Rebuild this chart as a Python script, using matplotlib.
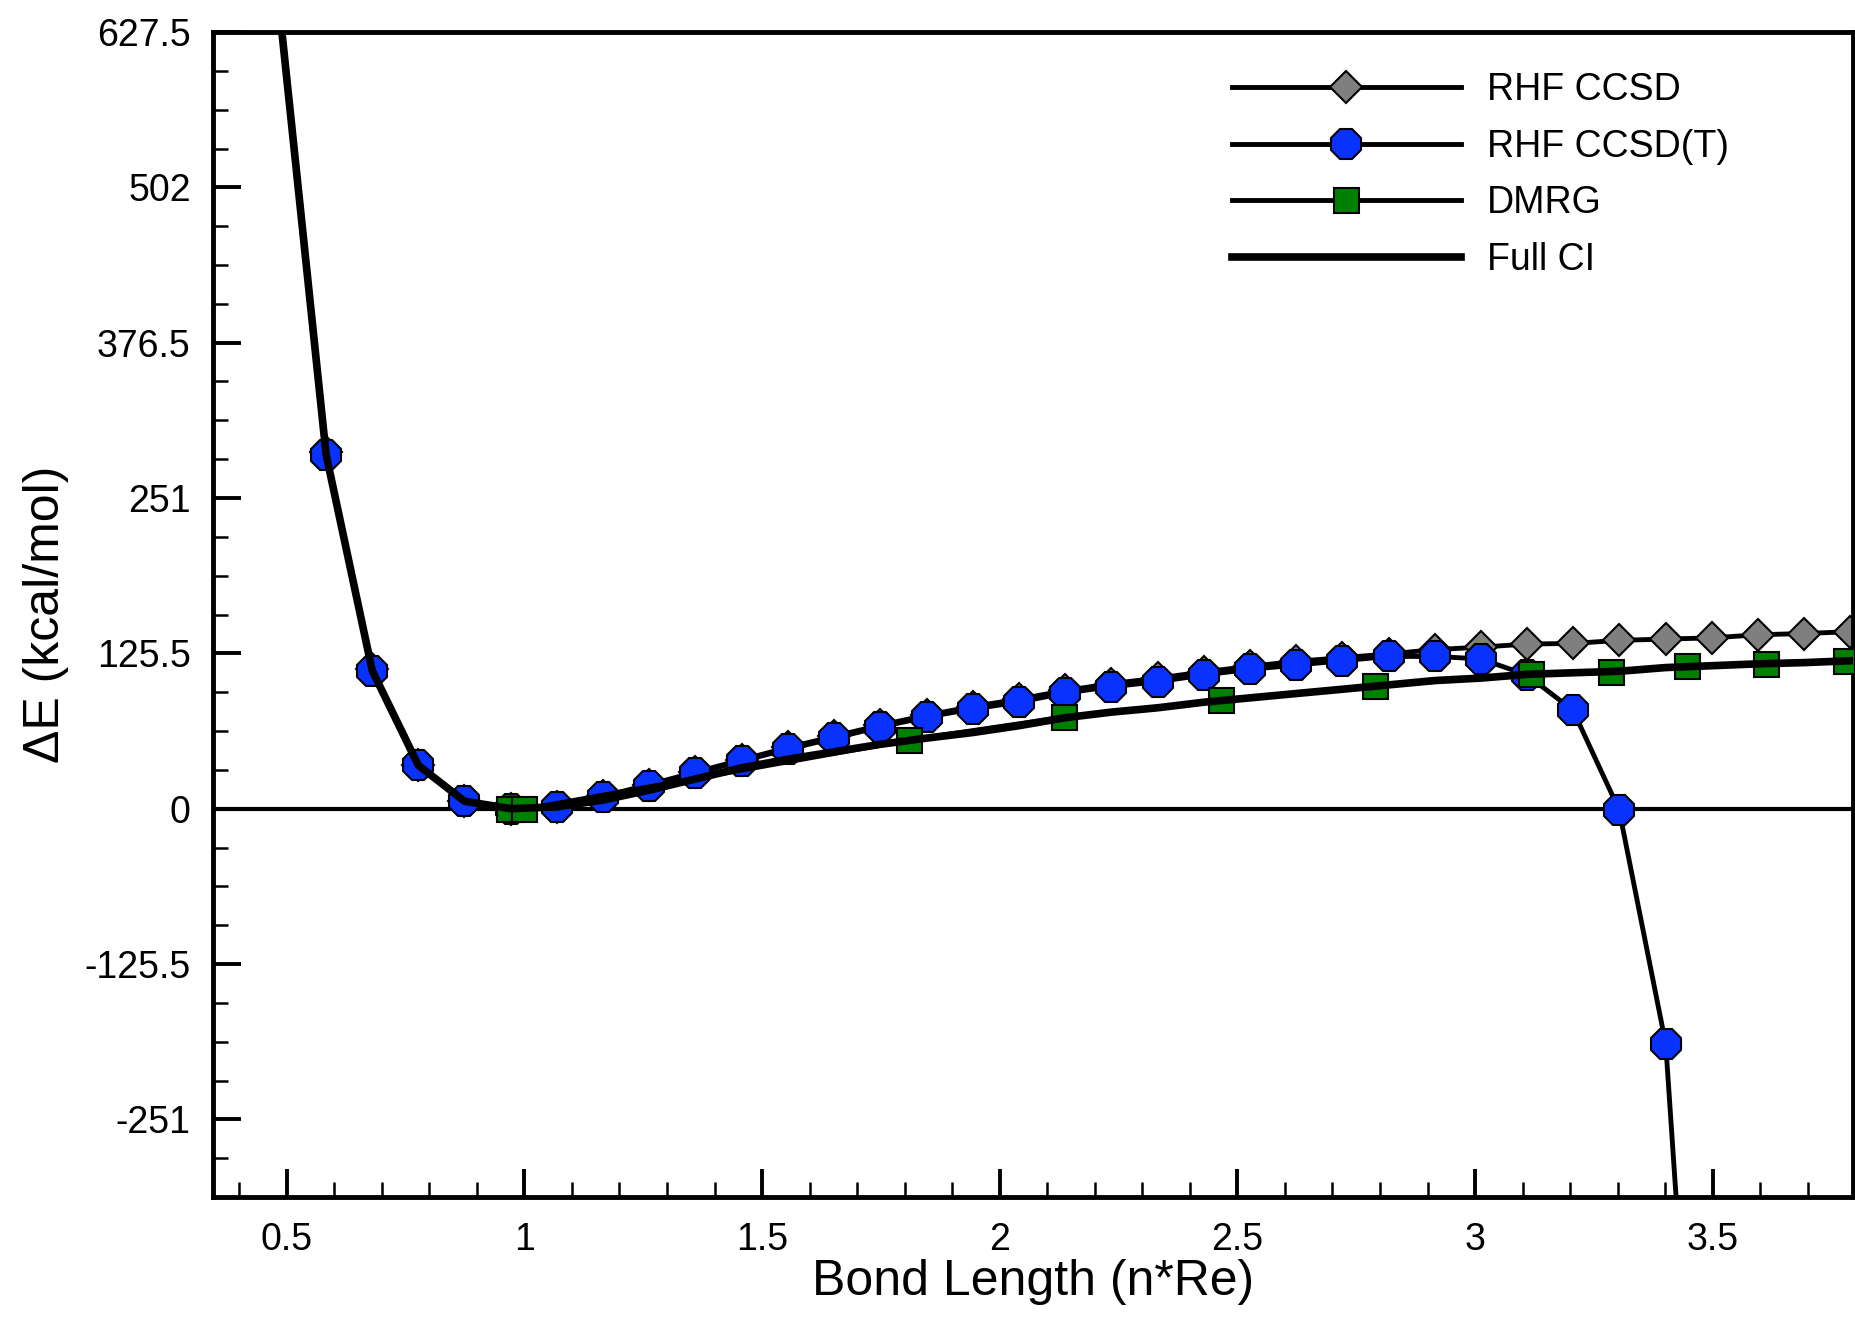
import matplotlib
matplotlib.use("Agg")
import matplotlib.pyplot as plt
from matplotlib.ticker import FixedLocator, FixedFormatter, MultipleLocator

plt.rcParams['font.family'] = ['Liberation Sans', 'DejaVu Sans']

# Bond lengths (n*Re) of the computed grid
bond_x = [0.486, 0.583, 0.680, 0.777, 0.874, 0.972, 1.069, 1.166, 1.263, 1.360,
          1.457, 1.555, 1.652, 1.749, 1.846, 1.943, 2.040, 2.138, 2.235, 2.332,
          2.429, 2.526, 2.623, 2.721, 2.818, 2.915, 3.012, 3.109, 3.206, 3.303,
          3.401, 3.498, 3.595, 3.692, 3.789]

ccsd = [645, 288, 112.5, 35.5, 6.2, 0, 1.2, 10, 19.5, 29.5,
        39.5, 49.5, 58.5, 67.5, 75.5, 82.5, 88.5, 95.5, 101, 105.5,
        110.5, 115, 119, 122, 125, 128.5, 130.5, 133, 133.5, 136,
        137, 138, 140.5, 141.5, 143]

ccsdt_x = [0.486, 0.583, 0.680, 0.777, 0.874, 0.972, 1.069, 1.166, 1.263, 1.360,
           1.457, 1.555, 1.652, 1.749, 1.846, 1.943, 2.040, 2.138, 2.235, 2.332,
           2.429, 2.526, 2.623, 2.721, 2.818, 2.915, 3.012, 3.109, 3.206, 3.303,
           3.401, 3.498]
ccsdt = [642, 286, 111.5, 35, 6, 0, 1, 9.5, 18.5, 28.5,
         38.5, 48, 57, 66, 74, 80.5, 86, 93.5, 98.5, 102.5,
         108, 112.5, 116, 119.5, 123, 123, 121, 108, 79.5, -1,
         -190, -740]

dmrg_x = [0.968, 1.0, 1.810, 2.136, 2.465, 2.790, 3.118, 3.286, 3.446, 3.613, 3.780]
dmrg_y = [0, -0.5, 55.5, 74, 87.5, 98.8, 109, 110.5, 115.3, 117.2, 119.2]

fci = [642, 286, 111.5, 35, 6, 0, 1.5, 7, 15, 24,
       33, 40, 46, 52, 57, 61.5, 67, 73.5, 78, 81.5,
       86, 89.5, 93, 96.5, 100, 103.5, 105.5, 108.5, 109.8, 111,
       114, 115.5, 117, 118, 119.5]

yticks = [627.5, 502, 376.5, 251, 125.5, 0, -125.5, -251]
ytick_labels = ["627.5", "502", "376.5", "251", "125.5", "0", "-125.5", "-251"]
xticks = [0.5, 1, 1.5, 2, 2.5, 3, 3.5]
xtick_labels = ["0.5", "1", "1.5", "2", "2.5", "3", "3.5"]

W, H = 1855, 1325
fig = plt.figure(figsize=(W / 100, H / 100), dpi=100)
ax = fig.add_axes([213 / W, 1 - 1197 / H, (1853 - 213) / W, (1197 - 32) / H])

ax.axhline(0, color='black', lw=3, zorder=1)
ax.plot(bond_x, ccsd, color='black', lw=3.5, marker='D', ms=16,
        mfc='#7f7f7f', mec='black', mew=1.5, zorder=2, label='RHF CCSD')
ax.plot(ccsdt_x, ccsdt, color='black', lw=3.5, marker='8', ms=23,
        mfc='#0a32ff', mec='black', mew=1.5, zorder=3, label='RHF CCSD(T)')
ax.plot(dmrg_x, dmrg_y, color='black', lw=3.5, marker='s', ms=18,
        mfc='#008000', mec='black', mew=1.5, zorder=4, label='DMRG')
ax.plot(bond_x, fci, color='black', lw=5.5, zorder=5, label='Full CI')

ax.set_xlim(0.345, 3.795)
ax.set_ylim(-313.75, 627.5)

ax.xaxis.set_major_locator(FixedLocator(xticks))
ax.xaxis.set_major_formatter(FixedFormatter(xtick_labels))
ax.yaxis.set_major_locator(FixedLocator(yticks))
ax.yaxis.set_major_formatter(FixedFormatter(ytick_labels))
ax.xaxis.set_minor_locator(MultipleLocator(0.1))
ax.yaxis.set_minor_locator(MultipleLocator(31.375))

ax.tick_params(which='major', direction='in', length=20, width=2.8,
               labelsize=27, top=False, right=False)
ax.tick_params(which='minor', direction='in', length=11, width=1.8,
               top=False, right=False)
ax.tick_params(axis='x', which='major', pad=18)
ax.tick_params(axis='y', which='major', pad=16)

for s in ax.spines.values():
    s.set_linewidth(3.5)

ax.set_xlabel('Bond Length (n*Re)', fontsize=36)
ax.xaxis.set_label_coords(0.5, -0.053)
ax.set_ylabel('ΔE (kcal/mol)', fontsize=36)
ax.yaxis.set_label_coords(-0.088, 0.5)

ax.legend(loc='upper left', bbox_to_anchor=(1232 / W, 1 - 72 / H),
          bbox_transform=fig.transFigure, frameon=False, fontsize=27,
          handlelength=6.1, handletextpad=0.7, labelspacing=0.55,
          borderpad=0, borderaxespad=0)

fig.savefig('out.png', dpi=100)
